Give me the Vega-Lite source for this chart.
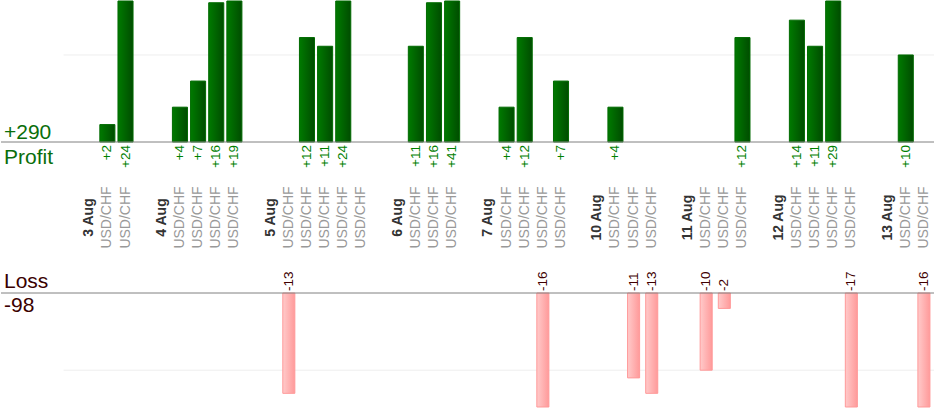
{
  "$schema": "https://vega.github.io/schema/vega-lite/v6.json",
  "padding": 0,
  "bounds": "flush",
  "spacing": 0,
  "background": "white",
  "config": {"view": {"stroke": null}, "text": {"font": "Liberation Sans"}},
  "datasets": {
    "cols": [
      {"k": "3 Aug", "day": "3 Aug"},
      {"k": "3 Aug #1", "day": "3 Aug", "pair": "USD/CHF", "pl": 2},
      {"k": "3 Aug #2", "day": "3 Aug", "pair": "USD/CHF", "pl": 24},
      {"k": "4 Aug", "day": "4 Aug"},
      {"k": "4 Aug #1", "day": "4 Aug", "pair": "USD/CHF", "pl": 4},
      {"k": "4 Aug #2", "day": "4 Aug", "pair": "USD/CHF", "pl": 7},
      {"k": "4 Aug #3", "day": "4 Aug", "pair": "USD/CHF", "pl": 16},
      {"k": "4 Aug #4", "day": "4 Aug", "pair": "USD/CHF", "pl": 19},
      {"k": "5 Aug", "day": "5 Aug"},
      {"k": "5 Aug #1", "day": "5 Aug", "pair": "USD/CHF", "pl": -13},
      {"k": "5 Aug #2", "day": "5 Aug", "pair": "USD/CHF", "pl": 12},
      {"k": "5 Aug #3", "day": "5 Aug", "pair": "USD/CHF", "pl": 11},
      {"k": "5 Aug #4", "day": "5 Aug", "pair": "USD/CHF", "pl": 24},
      {"k": "5 Aug #5", "day": "5 Aug", "pair": "USD/CHF", "pl": 0},
      {"k": "6 Aug", "day": "6 Aug"},
      {"k": "6 Aug #1", "day": "6 Aug", "pair": "USD/CHF", "pl": 11},
      {"k": "6 Aug #2", "day": "6 Aug", "pair": "USD/CHF", "pl": 16},
      {"k": "6 Aug #3", "day": "6 Aug", "pair": "USD/CHF", "pl": 41},
      {"k": "7 Aug", "day": "7 Aug"},
      {"k": "7 Aug #1", "day": "7 Aug", "pair": "USD/CHF", "pl": 4},
      {"k": "7 Aug #2", "day": "7 Aug", "pair": "USD/CHF", "pl": 12},
      {"k": "7 Aug #3", "day": "7 Aug", "pair": "USD/CHF", "pl": -16},
      {"k": "7 Aug #4", "day": "7 Aug", "pair": "USD/CHF", "pl": 7},
      {"k": "10 Aug", "day": "10 Aug"},
      {"k": "10 Aug #1", "day": "10 Aug", "pair": "USD/CHF", "pl": 4},
      {"k": "10 Aug #2", "day": "10 Aug", "pair": "USD/CHF", "pl": -11},
      {"k": "10 Aug #3", "day": "10 Aug", "pair": "USD/CHF", "pl": -13},
      {"k": "11 Aug", "day": "11 Aug"},
      {"k": "11 Aug #1", "day": "11 Aug", "pair": "USD/CHF", "pl": -10},
      {"k": "11 Aug #2", "day": "11 Aug", "pair": "USD/CHF", "pl": -2},
      {"k": "11 Aug #3", "day": "11 Aug", "pair": "USD/CHF", "pl": 12},
      {"k": "12 Aug", "day": "12 Aug"},
      {"k": "12 Aug #1", "day": "12 Aug", "pair": "USD/CHF", "pl": 14},
      {"k": "12 Aug #2", "day": "12 Aug", "pair": "USD/CHF", "pl": 11},
      {"k": "12 Aug #3", "day": "12 Aug", "pair": "USD/CHF", "pl": 29},
      {"k": "12 Aug #4", "day": "12 Aug", "pair": "USD/CHF", "pl": -17},
      {"k": "13 Aug", "day": "13 Aug"},
      {"k": "13 Aug #1", "day": "13 Aug", "pair": "USD/CHF", "pl": 10},
      {"k": "13 Aug #2", "day": "13 Aug", "pair": "USD/CHF", "pl": -16}
    ]
  },
  "resolve": {"scale": {"x": "independent", "y": "independent"}},
  "vconcat": [
    {
      "width": 934,
      "height": 141,
      "resolve": {"scale": {"x": "independent"}},
      "layer": [
        {
          "layer": [
            {
              "data": {"values": [{}]},
              "mark": {"type": "rule", "color": "#eeeeee", "strokeWidth": 1},
              "encoding": {
                "x": {"datum": "g3", "type": "nominal", "bandPosition": 0, "axis": null,
                  "scale": {"type": "band", "range": [61, 932], "paddingInner": 0.17, "paddingOuter": 0.085,
                    "domain": ["g3","3 Aug","3 Aug #1","3 Aug #2","g4","4 Aug","4 Aug #1","4 Aug #2","4 Aug #3","4 Aug #4","g5","5 Aug","5 Aug #1","5 Aug #2","5 Aug #3","5 Aug #4","5 Aug #5","g6","6 Aug","6 Aug #1","6 Aug #2","6 Aug #3","g7","7 Aug","7 Aug #1","7 Aug #2","7 Aug #3","7 Aug #4","g10","10 Aug","10 Aug #1","10 Aug #2","10 Aug #3","g11","11 Aug","11 Aug #1","11 Aug #2","11 Aug #3","g12","12 Aug","12 Aug #1","12 Aug #2","12 Aug #3","12 Aug #4","g13","13 Aug","13 Aug #1","13 Aug #2"]}},
                "x2": {"value": "width"},
                "y": {"datum": 10, "type": "quantitative", "axis": null, "scale": {"domain": [0, 16.2], "clamp": true}}
              }
            },
            {
              "data": {"name": "cols"},
              "transform": [{"filter": "datum.pl > 0"}],
              "mark": {
                "type": "bar",
                "fill": {"gradient": "linear", "x1": 0, "y1": 0, "x2": 1, "y2": 0,
                  "stops": [{"offset": 0, "color": "#007a00"}, {"offset": 1, "color": "#004c00"}]},
                "stroke": "#006a00",
                "strokeWidth": 1
              },
              "encoding": {
                "x": {"field": "k", "type": "nominal", "axis": null,
                  "scale": {"type": "band", "range": [61, 932], "paddingInner": 0.17, "paddingOuter": 0.085,
                    "domain": ["g3","3 Aug","3 Aug #1","3 Aug #2","g4","4 Aug","4 Aug #1","4 Aug #2","4 Aug #3","4 Aug #4","g5","5 Aug","5 Aug #1","5 Aug #2","5 Aug #3","5 Aug #4","5 Aug #5","g6","6 Aug","6 Aug #1","6 Aug #2","6 Aug #3","g7","7 Aug","7 Aug #1","7 Aug #2","7 Aug #3","7 Aug #4","g10","10 Aug","10 Aug #1","10 Aug #2","10 Aug #3","g11","11 Aug","11 Aug #1","11 Aug #2","11 Aug #3","g12","12 Aug","12 Aug #1","12 Aug #2","12 Aug #3","12 Aug #4","g13","13 Aug","13 Aug #1","13 Aug #2"]}},
                "y": {"field": "pl", "type": "quantitative", "axis": null, "scale": {"domain": [0, 16.2], "clamp": true}}
              }
            },
            {
              "data": {"name": "cols"},
              "transform": [{"filter": "datum.pl > 0"}],
              "mark": {"type": "text", "angle": 270, "align": "right", "baseline": "middle", "dx": -3, "fontSize": 13.5, "color": "#008000"},
              "encoding": {
                "x": {"field": "k", "type": "nominal", "axis": null,
                  "scale": {"type": "band", "range": [61, 932], "paddingInner": 0.17, "paddingOuter": 0.085,
                    "domain": ["g3","3 Aug","3 Aug #1","3 Aug #2","g4","4 Aug","4 Aug #1","4 Aug #2","4 Aug #3","4 Aug #4","g5","5 Aug","5 Aug #1","5 Aug #2","5 Aug #3","5 Aug #4","5 Aug #5","g6","6 Aug","6 Aug #1","6 Aug #2","6 Aug #3","g7","7 Aug","7 Aug #1","7 Aug #2","7 Aug #3","7 Aug #4","g10","10 Aug","10 Aug #1","10 Aug #2","10 Aug #3","g11","11 Aug","11 Aug #1","11 Aug #2","11 Aug #3","g12","12 Aug","12 Aug #1","12 Aug #2","12 Aug #3","12 Aug #4","g13","13 Aug","13 Aug #1","13 Aug #2"]}},
                "y": {"datum": 0, "type": "quantitative", "axis": null, "scale": {"domain": [0, 16.2], "clamp": true}},
                "text": {"field": "pl", "type": "quantitative", "format": "+"}
              }
            }
          ]
        },
        {
          "data": {"values": [{}]},
          "mark": {"type": "rule", "color": "#808080", "strokeWidth": 1},
          "encoding": {
            "y": {"datum": 0, "type": "quantitative", "axis": null, "scale": {"domain": [0, 16.2], "clamp": true}}
          }
        },
        {
          "data": {"values": [{}]},
          "mark": {"type": "text", "text": "+290", "align": "left", "baseline": "alphabetic", "dx": 3, "dy": -3.5, "fontSize": 21, "color": "#0a6e0a"},
          "encoding": {
            "x": {"datum": 0, "type": "quantitative", "axis": null, "scale": {"domain": [0, 1]}},
            "y": {"datum": 0, "type": "quantitative", "axis": null, "scale": {"domain": [0, 16.2], "clamp": true}}
          }
        },
        {
          "data": {"values": [{}]},
          "mark": {"type": "text", "text": "Profit", "align": "left", "baseline": "alphabetic", "dx": 3, "dy": 21.7, "fontSize": 21, "color": "#0a6e0a"},
          "encoding": {
            "x": {"datum": 0, "type": "quantitative", "axis": null, "scale": {"domain": [0, 1]}},
            "y": {"datum": 0, "type": "quantitative", "axis": null, "scale": {"domain": [0, 16.2], "clamp": true}}
          }
        }
      ]
    },
    {
      "width": 934,
      "height": 151,
      "data": {"name": "cols"},
      "layer": [
        {
          "transform": [{"filter": "!isValid(datum.pair)"}],
          "mark": {"type": "text", "angle": 270, "align": "center", "baseline": "middle", "fontSize": 14, "fontWeight": "bold", "color": "#333333"},
          "encoding": {
            "x": {"field": "k", "type": "nominal", "axis": null,
              "scale": {"type": "band", "range": [61, 932], "paddingInner": 0.17, "paddingOuter": 0.085,
                "domain": ["g3","3 Aug","3 Aug #1","3 Aug #2","g4","4 Aug","4 Aug #1","4 Aug #2","4 Aug #3","4 Aug #4","g5","5 Aug","5 Aug #1","5 Aug #2","5 Aug #3","5 Aug #4","5 Aug #5","g6","6 Aug","6 Aug #1","6 Aug #2","6 Aug #3","g7","7 Aug","7 Aug #1","7 Aug #2","7 Aug #3","7 Aug #4","g10","10 Aug","10 Aug #1","10 Aug #2","10 Aug #3","g11","11 Aug","11 Aug #1","11 Aug #2","11 Aug #3","g12","12 Aug","12 Aug #1","12 Aug #2","12 Aug #3","12 Aug #4","g13","13 Aug","13 Aug #1","13 Aug #2"]}},
            "text": {"field": "day", "type": "nominal"}
          }
        },
        {
          "transform": [{"filter": "isValid(datum.pair)"}],
          "mark": {"type": "text", "angle": 270, "align": "center", "baseline": "middle", "fontSize": 14, "color": "#999999"},
          "encoding": {
            "x": {"field": "k", "type": "nominal", "axis": null,
              "scale": {"type": "band", "range": [61, 932], "paddingInner": 0.17, "paddingOuter": 0.085,
                "domain": ["g3","3 Aug","3 Aug #1","3 Aug #2","g4","4 Aug","4 Aug #1","4 Aug #2","4 Aug #3","4 Aug #4","g5","5 Aug","5 Aug #1","5 Aug #2","5 Aug #3","5 Aug #4","5 Aug #5","g6","6 Aug","6 Aug #1","6 Aug #2","6 Aug #3","g7","7 Aug","7 Aug #1","7 Aug #2","7 Aug #3","7 Aug #4","g10","10 Aug","10 Aug #1","10 Aug #2","10 Aug #3","g11","11 Aug","11 Aug #1","11 Aug #2","11 Aug #3","g12","12 Aug","12 Aug #1","12 Aug #2","12 Aug #3","12 Aug #4","g13","13 Aug","13 Aug #1","13 Aug #2"]}},
            "text": {"field": "pair", "type": "nominal"}
          }
        }
      ]
    },
    {
      "width": 934,
      "height": 114,
      "resolve": {"scale": {"x": "independent"}},
      "layer": [
        {
          "layer": [
            {
              "data": {"values": [{}]},
              "mark": {"type": "rule", "color": "#eeeeee", "strokeWidth": 1},
              "encoding": {
                "x": {"datum": "g3", "type": "nominal", "bandPosition": 0, "axis": null,
                  "scale": {"type": "band", "range": [61, 932], "paddingInner": 0.17, "paddingOuter": 0.085,
                    "domain": ["g3","3 Aug","3 Aug #1","3 Aug #2","g4","4 Aug","4 Aug #1","4 Aug #2","4 Aug #3","4 Aug #4","g5","5 Aug","5 Aug #1","5 Aug #2","5 Aug #3","5 Aug #4","5 Aug #5","g6","6 Aug","6 Aug #1","6 Aug #2","6 Aug #3","g7","7 Aug","7 Aug #1","7 Aug #2","7 Aug #3","7 Aug #4","g10","10 Aug","10 Aug #1","10 Aug #2","10 Aug #3","g11","11 Aug","11 Aug #1","11 Aug #2","11 Aug #3","g12","12 Aug","12 Aug #1","12 Aug #2","12 Aug #3","12 Aug #4","g13","13 Aug","13 Aug #1","13 Aug #2"]}},
                "x2": {"value": "width"},
                "y": {"datum": -10, "type": "quantitative", "axis": null, "scale": {"domain": [-14.77, 0], "clamp": true}}
              }
            },
            {
              "data": {"name": "cols"},
              "transform": [{"filter": "datum.pl < 0"}],
              "mark": {
                "type": "bar",
                "width": {"band": 0.8},
                "fill": {"gradient": "linear", "x1": 0, "y1": 0, "x2": 1, "y2": 0,
                  "stops": [{"offset": 0, "color": "#ffcaca"}, {"offset": 1, "color": "#ff9a9a"}]},
                "stroke": "#ff9999",
                "strokeWidth": 1
              },
              "encoding": {
                "x": {"field": "k", "type": "nominal", "axis": null,
                  "scale": {"type": "band", "range": [61, 932], "paddingInner": 0.17, "paddingOuter": 0.085,
                    "domain": ["g3","3 Aug","3 Aug #1","3 Aug #2","g4","4 Aug","4 Aug #1","4 Aug #2","4 Aug #3","4 Aug #4","g5","5 Aug","5 Aug #1","5 Aug #2","5 Aug #3","5 Aug #4","5 Aug #5","g6","6 Aug","6 Aug #1","6 Aug #2","6 Aug #3","g7","7 Aug","7 Aug #1","7 Aug #2","7 Aug #3","7 Aug #4","g10","10 Aug","10 Aug #1","10 Aug #2","10 Aug #3","g11","11 Aug","11 Aug #1","11 Aug #2","11 Aug #3","g12","12 Aug","12 Aug #1","12 Aug #2","12 Aug #3","12 Aug #4","g13","13 Aug","13 Aug #1","13 Aug #2"]}},
                "y": {"field": "pl", "type": "quantitative", "axis": null, "scale": {"domain": [-14.77, 0], "clamp": true}}
              }
            },
            {
              "data": {"name": "cols"},
              "transform": [{"filter": "datum.pl < 0"}],
              "mark": {"type": "text", "angle": 270, "align": "left", "baseline": "middle", "dx": 2, "fontSize": 13.5, "color": "#400000"},
              "encoding": {
                "x": {"field": "k", "type": "nominal", "axis": null,
                  "scale": {"type": "band", "range": [61, 932], "paddingInner": 0.17, "paddingOuter": 0.085,
                    "domain": ["g3","3 Aug","3 Aug #1","3 Aug #2","g4","4 Aug","4 Aug #1","4 Aug #2","4 Aug #3","4 Aug #4","g5","5 Aug","5 Aug #1","5 Aug #2","5 Aug #3","5 Aug #4","5 Aug #5","g6","6 Aug","6 Aug #1","6 Aug #2","6 Aug #3","g7","7 Aug","7 Aug #1","7 Aug #2","7 Aug #3","7 Aug #4","g10","10 Aug","10 Aug #1","10 Aug #2","10 Aug #3","g11","11 Aug","11 Aug #1","11 Aug #2","11 Aug #3","g12","12 Aug","12 Aug #1","12 Aug #2","12 Aug #3","12 Aug #4","g13","13 Aug","13 Aug #1","13 Aug #2"]}},
                "y": {"datum": 0, "type": "quantitative", "axis": null, "scale": {"domain": [-14.77, 0], "clamp": true}},
                "text": {"field": "pl", "type": "nominal"}
              }
            }
          ]
        },
        {
          "data": {"values": [{}]},
          "mark": {"type": "rule", "color": "#808080", "strokeWidth": 1},
          "encoding": {
            "y": {"datum": 0, "type": "quantitative", "axis": null, "scale": {"domain": [-14.77, 0], "clamp": true}}
          }
        },
        {
          "data": {"values": [{}]},
          "mark": {"type": "text", "text": "Loss", "align": "left", "baseline": "alphabetic", "dx": 3, "dy": -5.3, "fontSize": 21, "color": "#3a0000"},
          "encoding": {
            "x": {"datum": 0, "type": "quantitative", "axis": null, "scale": {"domain": [0, 1]}},
            "y": {"datum": 0, "type": "quantitative", "axis": null, "scale": {"domain": [-14.77, 0], "clamp": true}}
          }
        },
        {
          "data": {"values": [{}]},
          "mark": {"type": "text", "text": "-98", "align": "left", "baseline": "alphabetic", "dx": 3, "dy": 18.7, "fontSize": 21, "color": "#3a0000"},
          "encoding": {
            "x": {"datum": 0, "type": "quantitative", "axis": null, "scale": {"domain": [0, 1]}},
            "y": {"datum": 0, "type": "quantitative", "axis": null, "scale": {"domain": [-14.77, 0], "clamp": true}}
          }
        }
      ]
    }
  ]
}
